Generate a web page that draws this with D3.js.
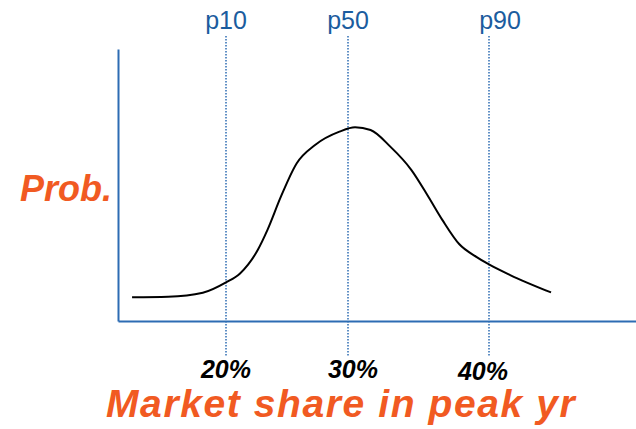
<!DOCTYPE html>
<html>
<head>
<meta charset="utf-8">
<script src="https://cdn.jsdelivr.net/npm/d3@7"></script>
<style>
  html, body { margin: 0; padding: 0; background: #fff; }
  svg { display: block; }
</style>
</head>
<body>
<div id="chart"></div>
<script>
// Distribution curve (share in %, prob. in arbitrary units)
const shares = [12.3, 15.25, 18.1, 20, 21.15, 22.6, 23.4, 24.5, 25.8, 27.3, 29.3, 30.5, 31.6, 33, 34.5, 35.7, 36.7, 37.9, 39.1, 40, 41.5, 44.4];
const probs = [8.7, 8.9, 10.4, 14.2, 17.5, 26.1, 33.5, 45.7, 58, 64.7, 69.6, 71.2, 70.2, 64.1, 55.5, 45.7, 37.1, 28.2, 23.6, 20.8, 16.9, 10.5];

// Percentile markers and their tick labels
const percentiles = ["p10", "p50", "p90"];
const markerShares = [20, 30, 40];
const tickLabels = ["20%", "30%", "40%"];

const width = 636, height = 429;
const orange = "#f15a22", blue = "#2d6cb3", textBlue = "#1b5c9e";
const font = "Liberation Sans, Arial, sans-serif";

const svg = d3.select("#chart").append("svg")
    .attr("width", width)
    .attr("height", height);

// piecewise scale: the sketch is not spaced evenly between the markers
const x = d3.scaleLinear().domain([20, 30, 40]).range([226, 348, 489]);
const y = d3.scaleLinear().domain([0, 100]).range([321, 49]);
const frame = d3.scaleLinear().domain([0, 1]).range([118, width]);

// axes (no ticks, just the frame lines)
svg.append("g")
    .attr("transform", `translate(${frame(0)},0)`)
    .call(d3.axisLeft(y).ticks(0).tickSizeOuter(0))
    .select(".domain")
    .attr("stroke", blue)
    .attr("stroke-width", 2);

svg.append("g")
    .attr("transform", `translate(0,${y(0)})`)
    .call(d3.axisBottom(frame).ticks(0).tickSizeOuter(0))
    .select(".domain")
    .attr("stroke", blue)
    .attr("stroke-width", 2);

// dotted percentile lines
svg.selectAll(".pline")
    .data(markerShares)
    .join("line")
    .attr("class", "pline")
    .attr("x1", d => x(d)).attr("x2", d => x(d))
    .attr("y1", 36).attr("y2", 357)
    .attr("stroke", blue)
    .attr("stroke-width", 1.5)
    .attr("stroke-dasharray", "1.5,1.5");

// percentile labels on top
const pNudge = [0, 0, 11];
svg.selectAll(".plabel")
    .data(percentiles)
    .join("text")
    .attr("class", "plabel")
    .attr("x", (d, i) => x(markerShares[i]) + pNudge[i])
    .attr("y", 29)
    .attr("text-anchor", "middle")
    .style("font-family", font)
    .style("font-size", "25px")
    .attr("fill", textBlue)
    .text(d => d);

// tick labels under the axis
const tNudge = [0, 5, -6], tDrop = [0, 0, 2];
svg.selectAll(".tlabel")
    .data(tickLabels)
    .join("text")
    .attr("class", "tlabel")
    .attr("x", (d, i) => x(markerShares[i]) + tNudge[i])
    .attr("y", (d, i) => 378 + tDrop[i])
    .attr("text-anchor", "middle")
    .style("font-family", font)
    .style("font-size", "25px")
    .style("font-weight", "bold")
    .style("font-style", "italic")
    .attr("fill", "#000")
    .text(d => d);

// the curve
const line = d3.line()
    .x(d => x(d[0]))
    .y(d => y(d[1]))
    .curve(d3.curveMonotoneX);

svg.append("path")
    .datum(d3.zip(shares, probs))
    .attr("fill", "none")
    .attr("stroke", "#000")
    .attr("stroke-width", 2)
    .attr("d", line);

// axis titles
svg.append("text")
    .attr("x", 112)
    .attr("y", 201)
    .attr("text-anchor", "end")
    .style("font-family", font)
    .style("font-size", "36px")
    .style("font-weight", "bold")
    .style("font-style", "italic")
    .attr("fill", orange)
    .text("Prob.");

svg.append("text")
    .attr("x", 106)
    .attr("y", 417)
    .style("font-family", font)
    .style("font-size", "39px")
    .style("font-weight", "bold")
    .style("font-style", "italic")
    .style("letter-spacing", "1.6px")
    .attr("fill", orange)
    .text("Market share in peak yr");
</script>
</body>
</html>
